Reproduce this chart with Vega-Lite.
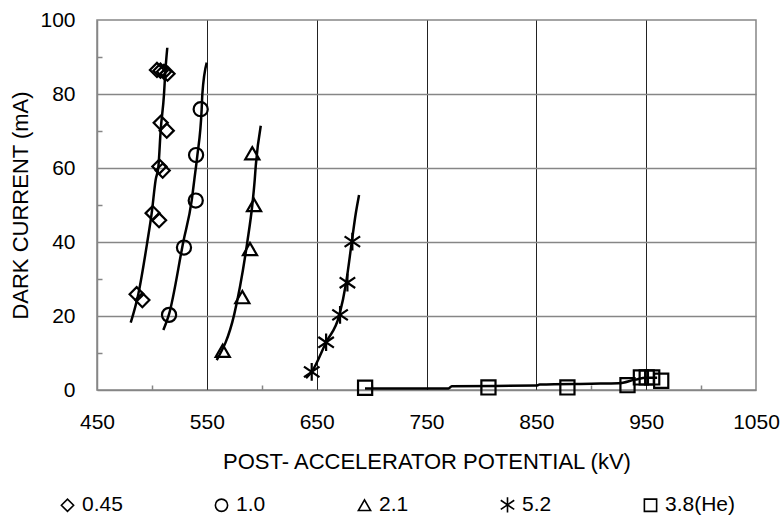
{
  "$schema": "https://vega.github.io/schema/vega-lite/v6.json",
  "width": 659,
  "height": 370,
  "autosize": "none",
  "padding": {"left": 97, "top": 20, "right": 24, "bottom": 130},
  "background": "white",
  "config": {
    "font": "Liberation Sans",
    "view": {"stroke": "#868686", "strokeWidth": 1.5},
    "axis": {"labelFont": "Liberation Sans", "titleFont": "Liberation Sans", "labelColor": "black", "titleColor": "black", "titleFontWeight": "normal"}
  },
  "datasets": {
    "pts": [
      {"series": "0.45", "kv": 486.1, "ma": 25.9},
      {"series": "0.45", "kv": 491.3, "ma": 24.3},
      {"series": "0.45", "kv": 500.7, "ma": 47.8},
      {"series": "0.45", "kv": 506.5, "ma": 45.9},
      {"series": "0.45", "kv": 506.8, "ma": 60.4},
      {"series": "0.45", "kv": 509.8, "ma": 59.3},
      {"series": "0.45", "kv": 508.0, "ma": 72.2},
      {"series": "0.45", "kv": 513.5, "ma": 70.1},
      {"series": "0.45", "kv": 504.6, "ma": 86.5},
      {"series": "0.45", "kv": 507.8, "ma": 86.3},
      {"series": "0.45", "kv": 511.0, "ma": 86.0},
      {"series": "0.45", "kv": 514.2, "ma": 85.5},
      {"series": "1.0", "kv": 515.6, "ma": 20.3},
      {"series": "1.0", "kv": 529.2, "ma": 38.5},
      {"series": "1.0", "kv": 539.9, "ma": 51.2},
      {"series": "1.0", "kv": 540.2, "ma": 63.5},
      {"series": "1.0", "kv": 544.4, "ma": 75.9},
      {"series": "2.1", "kv": 564.5, "ma": 10.6},
      {"series": "2.1", "kv": 582.3, "ma": 25.1},
      {"series": "2.1", "kv": 589.3, "ma": 38.1},
      {"series": "2.1", "kv": 593.0, "ma": 50.0},
      {"series": "2.1", "kv": 591.4, "ma": 64.0},
      {"series": "5.2", "kv": 645.5, "ma": 4.9},
      {"series": "5.2", "kv": 658.6, "ma": 12.9},
      {"series": "5.2", "kv": 671.3, "ma": 20.3},
      {"series": "5.2", "kv": 678.0, "ma": 29.0},
      {"series": "5.2", "kv": 682.5, "ma": 40.1},
      {"series": "3.8(He)", "kv": 694.1, "ma": 0.6},
      {"series": "3.8(He)", "kv": 806.4, "ma": 0.7},
      {"series": "3.8(He)", "kv": 878.3, "ma": 0.7},
      {"series": "3.8(He)", "kv": 933.0, "ma": 1.3},
      {"series": "3.8(He)", "kv": 945.2, "ma": 3.4},
      {"series": "3.8(He)", "kv": 950.5, "ma": 3.4},
      {"series": "3.8(He)", "kv": 955.5, "ma": 3.4},
      {"series": "3.8(He)", "kv": 963.7, "ma": 2.5}
    ],
    "fits": [
      {"series": "0.45", "kv": 480.7, "ma": 18.2},
      {"series": "0.45", "kv": 487.6, "ma": 25.9},
      {"series": "0.45", "kv": 495.8, "ma": 40.0},
      {"series": "0.45", "kv": 499.8, "ma": 47.8},
      {"series": "0.45", "kv": 503.4, "ma": 56.8},
      {"series": "0.45", "kv": 505.9, "ma": 60.4},
      {"series": "0.45", "kv": 508.0, "ma": 70.3},
      {"series": "0.45", "kv": 511.0, "ma": 79.9},
      {"series": "0.45", "kv": 512.2, "ma": 86.0},
      {"series": "0.45", "kv": 514.0, "ma": 92.5},
      {"series": "1.0", "kv": 510.4, "ma": 16.2},
      {"series": "1.0", "kv": 515.6, "ma": 20.5},
      {"series": "1.0", "kv": 528.6, "ma": 40.1},
      {"series": "1.0", "kv": 536.2, "ma": 51.2},
      {"series": "1.0", "kv": 538.6, "ma": 56.8},
      {"series": "1.0", "kv": 541.4, "ma": 63.5},
      {"series": "1.0", "kv": 545.3, "ma": 75.9},
      {"series": "1.0", "kv": 545.9, "ma": 79.9},
      {"series": "1.0", "kv": 549.9, "ma": 88.5},
      {"series": "2.1", "kv": 559.0, "ma": 8.1},
      {"series": "2.1", "kv": 575.0, "ma": 20.5},
      {"series": "2.1", "kv": 586.9, "ma": 40.1},
      {"series": "2.1", "kv": 591.4, "ma": 50.0},
      {"series": "2.1", "kv": 593.6, "ma": 56.8},
      {"series": "2.1", "kv": 594.5, "ma": 60.4},
      {"series": "2.1", "kv": 599.1, "ma": 71.4},
      {"series": "5.2", "kv": 640.3, "ma": 3.2},
      {"series": "5.2", "kv": 645.5, "ma": 4.9},
      {"series": "5.2", "kv": 658.6, "ma": 12.9},
      {"series": "5.2", "kv": 670.7, "ma": 20.3},
      {"series": "5.2", "kv": 676.8, "ma": 29.0},
      {"series": "5.2", "kv": 682.0, "ma": 40.1},
      {"series": "5.2", "kv": 685.6, "ma": 47.7},
      {"series": "5.2", "kv": 688.6, "ma": 52.7},
      {"series": "3.8(He)", "kv": 694.0, "ma": 0.4},
      {"series": "3.8(He)", "kv": 770.0, "ma": 0.4},
      {"series": "3.8(He)", "kv": 773.0, "ma": 1.0},
      {"series": "3.8(He)", "kv": 850.0, "ma": 1.2},
      {"series": "3.8(He)", "kv": 853.0, "ma": 1.5},
      {"series": "3.8(He)", "kv": 900.0, "ma": 1.7},
      {"series": "3.8(He)", "kv": 925.0, "ma": 1.8},
      {"series": "3.8(He)", "kv": 940.0, "ma": 2.8},
      {"series": "3.8(He)", "kv": 950.0, "ma": 3.3},
      {"series": "3.8(He)", "kv": 960.0, "ma": 3.3}
    ]
  },
  "encoding": {
    "x": {
      "field": "kv", "type": "quantitative",
      "scale": {"domain": [450, 1050], "nice": false, "zero": false},
      "axis": {
        "title": "POST- ACCELERATOR POTENTIAL (kV)",
        "titleFontSize": 22, "titlePadding": 19,
        "values": [450, 500, 550, 600, 650, 700, 750, 800, 850, 900, 950, 1000, 1050],
        "format": "d",
        "labelExpr": "datum.value % 100 === 50 ? datum.label : ''",
        "labelFontSize": 21, "labelPadding": 26, "labelFlush": false, "labelOverlap": false,
        "domainColor": "#868686", "domainWidth": 1.5,
        "tickSize": -5, "tickColor": "#868686", "tickWidth": 1.5,
        "tickOpacity": {"condition": {"test": "datum.value % 100 === 0", "value": 1}, "value": 0},
        "grid": true, "gridColor": "#222222", "gridWidth": 1,
        "gridOpacity": {"condition": {"test": "datum.value % 100 === 50 && datum.value > 450 && datum.value < 1050", "value": 1}, "value": 0}
      }
    },
    "y": {
      "field": "ma", "type": "quantitative",
      "scale": {"domain": [0, 100], "nice": false},
      "axis": {
        "title": "DARK CURRENT (mA)",
        "titleFontSize": 22, "titlePadding": 7,
        "values": [0, 10, 20, 30, 40, 50, 60, 70, 80, 90, 100],
        "labelExpr": "datum.value % 20 === 0 ? datum.label : ''",
        "labelFontSize": 21, "labelPadding": 27, "labelFlush": false, "labelOverlap": false,
        "domainColor": "#868686", "domainWidth": 1.5,
        "tickSize": -5, "tickColor": "#868686", "tickWidth": 1.5,
        "tickOpacity": {"condition": {"test": "datum.value % 20 === 10", "value": 1}, "value": 0},
        "grid": true, "gridColor": "#868686", "gridWidth": 1.5,
        "gridOpacity": {"condition": {"test": "datum.value % 20 === 0 && datum.value > 0 && datum.value < 100", "value": 1}, "value": 0}
      }
    }
  },
  "layer": [
    {
      "data": {"name": "fits"},
      "mark": {"type": "line", "color": "black", "strokeWidth": 2.5, "interpolate": "monotone"},
      "encoding": {"detail": {"field": "series"}}
    },
    {
      "data": {"name": "pts"},
      "mark": {"type": "point", "filled": false, "stroke": "black", "strokeWidth": 2.2, "size": 200, "opacity": 1},
      "encoding": {
        "shape": {
          "field": "series", "type": "nominal",
          "scale": {
            "domain": ["0.45", "1.0", "2.1", "5.2", "3.8(He)"],
            "range": ["diamond", "circle", "triangle-up", "M0,-1.25L0,1.25M-1.1,-0.75L1.1,0.75M-1.1,0.75L1.1,-0.75", "square"]
          },
          "legend": {
            "title": null,
            "orient": "none",
            "legendX": -40,
            "legendY": 474,
            "direction": "horizontal",
            "columns": 5,
            "columnPadding": 88,
            "padding": 0,
            "labelFontSize": 21,
            "labelFont": "Liberation Sans",
            "labelColor": "black",
            "labelOffset": 4,
            "symbolSize": 150,
            "symbolStrokeWidth": 1.6,
            "symbolStrokeColor": "black",
            "symbolFillColor": "transparent",
            "symbolOpacity": 1
          }
        }
      }
    }
  ]
}
